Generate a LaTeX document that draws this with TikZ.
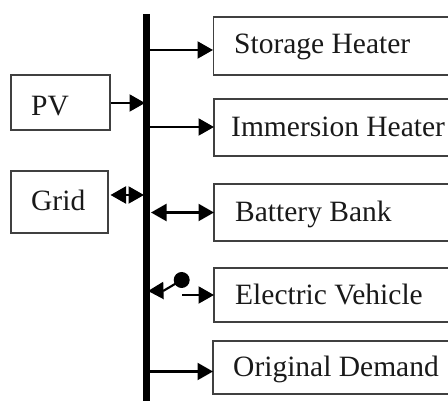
\documentclass[tikz,border=0pt]{standalone}
\usepackage{fontspec}
\setmainfont{Liberation Serif}
\usetikzlibrary{arrows.meta}
\tikzset{
  x=1pt,y=-1pt,
  blk/.style={draw=black!75!white,line width=1.1pt,minimum width=0pt,inner sep=0pt},
  openbox/.style={draw=black!75!white,line width=1.1pt},
  lbl/.style={anchor=base west,inner sep=0pt,font=\fontsize{29.5}{32}\selectfont,text=black!90},
  flow/.style={line width=2.1pt,-{Triangle[length=15.5pt,width=17pt]}},
  both/.style={line width=2.1pt,{Triangle[length=15.5pt,width=17pt]}-{Triangle[length=15.5pt,width=17pt]}},
}
\begin{document}
\begin{tikzpicture}
\useasboundingbox (0,0) rectangle (448,401);
\coordinate (bt) at (146.5,14); \coordinate (bb) at (146.5,401);
\draw[line width=6.4pt] (bt) -- (bb);
% boxes: open at the right edge
\draw[openbox] (448,17) -| (213.5,75) -- (448,75);
\draw[openbox] (448,99) -| (214,156) -- (448,156);
\draw[openbox] (448,184) -| (214,241) -- (448,241);
\draw[openbox] (448,268) -| (214,322) -- (448,322);
\draw[openbox] (448,341) -| (213,394) -- (448,394);
\node[blk,minimum width=99pt,minimum height=55pt] (pv) at (60.5,102.5) {};
\node[blk,minimum width=97pt,minimum height=62pt] (grid) at (59.5,202) {};
\node[lbl] (tpv) at (31,115.5) {PV};
\node[lbl] (tgrid) at (31,210.5) {Grid};
\node[lbl] (t1) at (234,54) {Storage Heater};
\node[lbl] (t2) at (231,137) {Immersion Heater};
\node[lbl] (t3) at (235,222) {Battery Bank};
\node[lbl] (t4) at (235,305) {Electric Vehicle};
\node[lbl] (t5) at (233,377) {Original Demand};
% connectors
\coordinate (a1) at (150,50); \coordinate (a1e) at (213,50);
\coordinate (a2) at (150,127); \coordinate (a2e) at (214,127);
\coordinate (a3) at (151,212.5); \coordinate (a3e) at (214,212.5);
\coordinate (a4) at (182,295); \coordinate (a4e) at (214,295);
\coordinate (a5) at (149,371.5); \coordinate (a5e) at (213,371.5);
\coordinate (ap) at (145,103); \coordinate (gl) at (110.5,195); \coordinate (gr) at (144,195);
\draw[flow] (a1) -- (a1e);
\draw[flow] (a2) -- (a2e);
\draw[both] (a3) -- (a3e);
\draw[flow] (a4) -- (a4e);
\draw[flow] (a5) -- (a5e);
\draw[flow] (pv.east |- ap) -- (ap);
\draw[both] (gl) -- (gr);
\coordinate (sw) at (181.7,280);
\coordinate (swb) at (164,290.5);
\coordinate (swe) at (148,291);
\fill (sw) circle (8pt);
\draw[flow] (sw) -- (swb) -- (swe);
\end{tikzpicture}
\end{document}
